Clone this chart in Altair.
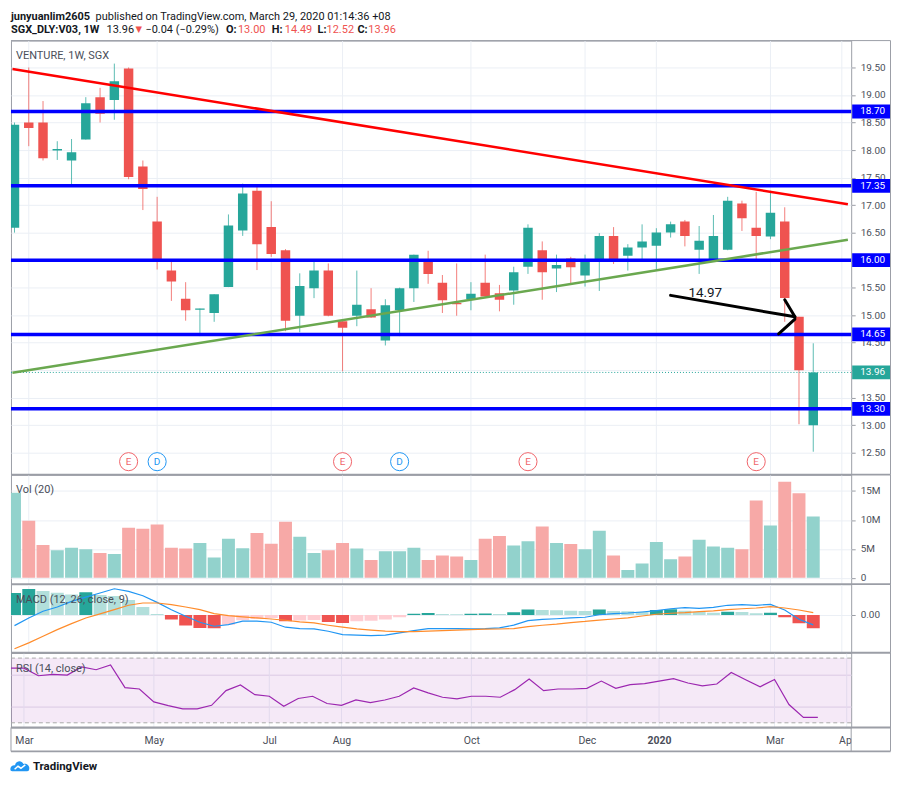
import altair as alt
import pandas as pd

# ------------------------------------------------------------------ data
first_week = "2019-02-25"
n_weeks = 57
week_dates = pd.date_range(first_week, periods=n_weeks, freq="7D").strftime("%Y-%m-%d").tolist()

opens = [16.59, 18.50, 18.50, 17.99, 17.81, 18.19, 18.96, 18.91, 19.48, 17.70,
         16.70, 15.81, 15.30, 15.10, 15.04, 15.51, 16.54, 17.26, 16.60, 16.18,
         14.99, 15.49, 15.81, 14.89, 14.99, 15.11, 14.54, 15.09, 15.49, 16.00,
         15.59, 15.22, 15.29, 15.59, 15.40, 15.45, 15.88, 16.18, 15.85, 16.03,
         15.72, 15.97, 16.44, 16.08, 16.23, 16.26, 16.50, 16.70, 16.19, 15.99,
         16.19, 17.03, 16.59, 16.43, 16.70, 14.97, 13.00]
highs = [18.50, 19.50, 18.89, 18.16, 18.20, 18.96, 19.13, 19.57, 19.50, 17.81,
         17.15, 15.97, 15.60, 15.12, 15.38, 16.83, 17.39, 17.36, 17.07, 16.20,
         15.76, 16.00, 15.94, 14.89, 15.81, 15.49, 15.29, 15.50, 16.10, 16.17,
         15.73, 15.94, 15.60, 16.10, 15.55, 15.88, 16.65, 16.34, 16.10, 16.06,
         16.10, 16.49, 16.60, 16.29, 16.65, 16.58, 16.70, 16.73, 16.62, 16.82,
         17.15, 17.08, 17.24, 17.26, 16.96, 14.97, 14.49]
lows = [16.50, 18.07, 17.81, 17.82, 17.34, 18.19, 18.50, 18.55, 17.47, 16.91,
        15.83, 15.26, 14.90, 14.62, 14.88, 15.51, 16.44, 15.82, 16.06, 14.71,
        14.69, 15.31, 14.98, 13.98, 14.80, 14.95, 14.45, 14.62, 15.24, 15.57,
        15.04, 14.99, 15.09, 15.31, 15.07, 15.19, 15.75, 15.28, 15.42, 15.58,
        15.52, 15.44, 15.93, 15.81, 16.00, 15.82, 16.41, 16.25, 15.75, 15.98,
        16.18, 16.53, 16.00, 16.38, 14.88, 13.02, 12.52]
closes = [18.46, 18.40, 17.85, 18.02, 17.96, 18.85, 18.66, 19.25, 17.51, 17.29,
          16.00, 15.61, 15.09, 15.12, 15.38, 16.63, 17.21, 16.29, 16.11, 14.90,
          15.53, 15.81, 14.99, 14.77, 15.19, 14.96, 15.18, 15.49, 16.10, 15.75,
          15.27, 15.20, 15.39, 15.34, 15.28, 15.78, 16.59, 15.78, 15.91, 15.87,
          15.97, 16.44, 16.02, 16.23, 16.34, 16.50, 16.65, 16.44, 16.35, 16.44,
          17.08, 16.76, 16.44, 16.86, 15.31, 14.00, 13.96]
volumes_m = [14.7, 9.86, 5.67, 4.76, 5.22, 4.93, 4.30, 4.12, 8.66, 8.49,
             9.23, 5.22, 5.05, 6.01, 3.50, 6.77, 5.10, 7.73, 5.91, 9.69,
             7.11, 4.30, 4.76, 6.01, 5.05, 3.09, 4.59, 4.59, 5.22, 3.09,
             3.85, 3.67, 3.09, 6.77, 7.22, 5.57, 6.31, 8.88, 6.01, 5.84,
             4.93, 8.14, 3.85, 1.37, 2.47, 6.19, 3.21, 3.67, 6.60, 5.40,
             5.22, 4.93, 13.35, 9.05, 16.6, 14.6, 10.6]
macd_line = [-0.167, -0.047, 0.058, 0.125, 0.214, 0.281, 0.344, 0.411, 0.370, 0.302,
             0.198, 0.083, -0.020, -0.114, -0.177, -0.152, -0.098, -0.098, -0.114, -0.192,
             -0.214, -0.219, -0.255, -0.308, -0.317, -0.323, -0.317, -0.281, -0.245, -0.214,
             -0.214, -0.214, -0.219, -0.214, -0.203, -0.160, -0.089, -0.070, -0.059, -0.047,
             -0.036, 0.003, 0.020, 0.031, 0.047, 0.067, 0.098, 0.114, 0.105, 0.120,
             0.152, 0.161, 0.152, 0.167, 0.078, -0.067, -0.156]
signal_line = [-0.531, -0.438, -0.333, -0.230, -0.136, -0.047, 0.016, 0.083, 0.152, 0.188,
               0.188, 0.161, 0.125, 0.083, 0.020, -0.011, -0.031, -0.047, -0.063, -0.083,
               -0.109, -0.125, -0.161, -0.192, -0.219, -0.239, -0.255, -0.261, -0.261, -0.255,
               -0.245, -0.239, -0.231, -0.223, -0.220, -0.214, -0.184, -0.161, -0.144, -0.119,
               -0.102, -0.080, -0.063, -0.047, -0.016, 0.011, 0.027, 0.036, 0.052, 0.063,
               0.083, 0.098, 0.109, 0.130, 0.109, 0.078, 0.036]
macd_hist = [0.344, 0.406, 0.375, 0.350, 0.320, 0.355, 0.313, 0.297, 0.234, 0.125,
             0.016, -0.073, -0.167, -0.203, -0.209, -0.152, -0.083, -0.063, -0.047, -0.098,
             -0.086, -0.080, -0.109, -0.125, -0.098, -0.089, -0.073, -0.036, 0.020, 0.031,
             0.016, 0.011, 0.020, 0.025, 0.016, 0.042, 0.086, 0.078, 0.073, 0.067,
             0.063, 0.086, 0.063, 0.058, 0.052, 0.078, 0.089, 0.067, 0.047, 0.036,
             0.052, 0.047, 0.027, 0.036, -0.036, -0.130, -0.208]
rsi_vals = [63.8, 63.8, 59.1, 59.9, 59.5, 64.5, 62.8, 65.7, 51.7, 50.9,
            42.9, 40.6, 38.6, 38.6, 40.8, 49.9, 53.4, 47.4, 46.4, 40.2,
            45.0, 46.4, 41.9, 40.8, 44.1, 42.5, 44.1, 46.4, 51.5, 48.5,
            45.8, 44.8, 46.4, 46.4, 45.8, 50.5, 57.1, 49.9, 50.9, 50.9,
            51.3, 55.8, 51.3, 53.6, 54.2, 55.8, 57.3, 54.6, 52.8, 54.0,
            61.1, 56.6, 52.3, 56.8, 41.3, 33.3, 33.3]

level_prices = [18.70, 17.35, 16.00, 14.65, 13.30]
last_price = 13.96
price_ticks = [12.5, 13.0, 13.5, 14.0, 14.5, 15.0, 15.5, 16.0, 16.5, 17.0, 17.5, 18.0, 18.5, 19.0, 19.5]
volume_ticks = [0, 5, 10, 15]
macd_ticks = [0]
rsi_grid = [40, 60]
rsi_bands = [70, 30]
month_ticks = ["2019-03-04", "2019-05-06", "2019-07-01", "2019-08-05", "2019-10-07",
               "2019-12-02", "2020-01-06", "2020-03-02", "2020-04-06"]
event_dates = ["2019-04-22", "2019-05-06", "2019-08-05", "2019-09-02", "2019-11-04", "2020-02-24"]
event_kinds = ["E", "D", "E", "D", "E", "E"]
red_trend_dates = ["2019-02-24", "2020-04-09"]
red_trend_prices = [19.472, 17.014]
green_trend_dates = ["2019-02-24", "2020-04-09"]
green_trend_prices = [13.953, 16.370]
arrow_from_dates = ["2020-01-13", "2020-03-09", "2020-03-06"]
arrow_from_prices = [15.36, 15.28, 14.66]
arrow_to_dates = ["2020-03-14", "2020-03-14", "2020-03-14"]
arrow_to_prices = [14.97, 14.97, 14.93]
arrow_label_date = "2020-01-30"
arrow_label_price = 15.40
arrow_label_text = "14.97"
x_range_dates = ["2019-02-25T17:22:00", "2020-04-08T04:05:00"]

header_line1 = ["junyuanlim2605", "published on TradingView.com, March 29, 2020 01:14:36 +08"]
header_line2 = ["SGX_DLY:V03, 1W", "13.96", "\u25bc", "\u22120.04 (\u22120.29%)", "O:", "13.00",
                "H:", "14.49", "L:", "12.52", "C:", "13.96"]

# ------------------------------------------------------------------ tables
df = pd.DataFrame({"date": week_dates, "o": opens, "h": highs, "l": lows, "c": closes,
                   "v": volumes_m, "macd": macd_line, "signal": signal_line,
                   "hist": macd_hist, "rsi": rsi_vals})
df["dir"] = ["up" if c >= o else "down" for o, c in zip(opens, closes)]
states = []
for i, hv in enumerate(macd_hist):
    rising = i == 0 or hv >= macd_hist[i - 1]
    if hv >= 0:
        states.append("pos_up" if rising else "pos_down")
    else:
        states.append("neg_up" if rising else "neg_down")
df["state"] = states

ticks_df = pd.DataFrame({"date": month_ticks})
levels_df = pd.DataFrame({"p": level_prices})
last_df = pd.DataFrame({"p": [last_price]})
events_df = pd.DataFrame({"date": event_dates, "kind": event_kinds})
red_df = pd.DataFrame({"date": red_trend_dates, "p": red_trend_prices})
green_df = pd.DataFrame({"date": green_trend_dates, "p": green_trend_prices})
arrow_df = pd.DataFrame({"d1": arrow_from_dates, "p1": arrow_from_prices,
                         "d2": arrow_to_dates, "p2": arrow_to_prices})
arrow_lab_df = pd.DataFrame({"date": [arrow_label_date], "p": [arrow_label_price], "t": [arrow_label_text]})
band_df = pd.DataFrame({"top": [rsi_bands[0]], "bot": [rsi_bands[1]]})
rsi_lines_df = pd.DataFrame({"r": rsi_bands})
one = pd.DataFrame({"z": [0]})

# ------------------------------------------------------------------ style / layout
FONT = "Roboto"
W = 844
RIGHT = 883.5
H_HEAD, H_MAIN, H_VOL, H_MACD, H_RSI = 30, 436, 110, 69, 75
FRAME = "#9B9EA6"
GRID = "#EBEFF5"
AXLAB = "#4A4E59"
LABEL = "#4A4E59"
TXT = "#131722"
TEAL = "#26A69A"
RED = "#EF5350"
BLUE = "#0000FF"


def ms(d):
    return int(pd.Timestamp(d, tz="UTC").value // 10**6)


xscale = alt.Scale(type="utc", domain=[ms(d) for d in x_range_dates], nice=False)


def X(field="date", axis=None):
    return alt.X(f"{field}:T", scale=xscale, axis=axis, title=None)


def seg(x1, y1, x2, y2, color=FRAME, width=1.0):
    return alt.Chart(one).mark_rule(color=color, strokeWidth=width).encode(
        x=alt.value(x1), x2=alt.value(x2), y=alt.value(y1), y2=alt.value(y2))


def label(text, x, y, size=11, color=LABEL, weight="normal", baseline="middle", font=FONT):
    return alt.Chart(one).mark_text(text=text, align="left", baseline=baseline, fontSize=size,
                                    color=color, fontWeight=weight, font=font).encode(
        x=alt.value(x), y=alt.value(y))


def vgrid(axis=None):
    return alt.Chart(ticks_df).mark_rule(color=GRID, strokeWidth=1).encode(x=X(axis=axis))


def right_axis(values, **kw):
    base = dict(orient="right", values=values, tickSize=4, tickColor=FRAME, labelColor=AXLAB,
                labelFontSize=10, labelPadding=5, domain=False, grid=True, gridColor=GRID,
                labelOverlap=False, title=None)
    base.update(kw)
    return alt.Axis(**base)


dir_scale = alt.Scale(domain=["up", "down"], range=[TEAL, RED])
vol_scale = alt.Scale(domain=["up", "down"], range=["#92D2CC", "#F7A9A7"])
hist_scale = alt.Scale(domain=["pos_up", "pos_down", "neg_down", "neg_up"],
                       range=[TEAL, "#B2DFDB", RED, "#FFCDD2"])

# ------------------------------------------------------------------ header
head_layers = [
    label(header_line1[0], 0, 0, size=11, color=TXT, weight="bold", baseline="top"),
    label(header_line1[1], 85, 0, size=11, color=TXT, baseline="top"),
]
line2_x = [0, 96, 125, 135, 216, 228, 262, 275, 308, 317, 348, 359]
line2_style = ["b", "n", "arrow", "n", "b", "r", "b", "r", "b", "r", "b", "r"]
for t, xx, st in zip(header_line2, line2_x, line2_style):
    if st == "b":
        head_layers.append(label(t, xx, 22, size=11, color=TXT, weight="bold", baseline="alphabetic"))
    elif st == "r":
        head_layers.append(label(t, xx, 22, size=11, color=RED, baseline="alphabetic"))
    elif st == "arrow":
        head_layers.append(label(t, xx, 21, size=8.5, color=RED, baseline="alphabetic", font="DejaVu Sans"))
    else:
        head_layers.append(label(t, xx, 22, size=11, color=TXT, baseline="alphabetic"))
header = alt.layer(*head_layers).properties(width=W, height=H_HEAD,
                                           view=alt.ViewBackground(stroke="transparent"))

# ------------------------------------------------------------------ main price pane
ys_main = alt.Scale(domain=[12.104, 19.988], zero=False, nice=False)
price_axis = right_axis(price_ticks, format=".2f")


def YM(field):
    return alt.Y(f"{field}:Q", scale=ys_main, axis=price_axis, title=None)


wicks = alt.Chart(df).mark_rule(strokeWidth=1, opacity=0.75, clip=True).encode(
    x=X(), y=YM("l"), y2="h:Q", color=alt.Color("dir:N", scale=dir_scale, legend=None))
bodies = alt.Chart(df).mark_bar(size=9.5, orient="vertical", clip=True).encode(
    x=X(), y=YM("o"), y2="c:Q", color=alt.Color("dir:N", scale=dir_scale, legend=None))
last_line = alt.Chart(last_df).mark_rule(color=TEAL, strokeDash=[1, 2], strokeWidth=1).encode(y=YM("p"))
level_lines = alt.Chart(levels_df).mark_rule(color=BLUE, strokeWidth=3.5).encode(y=YM("p"))
red_line = alt.Chart(red_df).mark_line(color="#FF0000", strokeWidth=2.5, clip=True).encode(x=X(), y=YM("p"))
green_line = alt.Chart(green_df).mark_line(color="#6AA84F", strokeWidth=2.5, clip=True).encode(x=X(), y=YM("p"))
arrow = alt.Chart(arrow_df).mark_rule(color="black", strokeWidth=3, strokeCap="round").encode(
    x=X("d1"), x2="d2:T", y=YM("p1"), y2="p2:Q")
arrow_text = alt.Chart(arrow_lab_df).mark_text(fontSize=13.5, color=TXT, align="center",
                                               baseline="middle").encode(x=X(), y=YM("p"), text="t:N")
level_boxes = alt.Chart(levels_df).transform_calculate(
    lo="datum.p - 0.125", hi="datum.p + 0.125").mark_rect(color=BLUE).encode(
    x=alt.value(845), x2=alt.value(RIGHT), y=YM("lo"), y2="hi:Q")
level_texts = alt.Chart(levels_df).mark_text(color="white", fontSize=10, align="left",
                                             baseline="middle").encode(
    x=alt.value(853), y=YM("p"), text=alt.Text("p:Q", format=".2f"))
last_box = alt.Chart(last_df).transform_calculate(
    lo="datum.p - 0.125", hi="datum.p + 0.125").mark_rect(color=TEAL).encode(
    x=alt.value(845), x2=alt.value(RIGHT), y=YM("lo"), y2="hi:Q")
last_text = alt.Chart(last_df).mark_text(color="white", fontSize=10, align="left",
                                         baseline="middle").encode(
    x=alt.value(853), y=YM("p"), text=alt.Text("p:Q", format=".2f"))

event_layers = []
for kind, col in [("E", "#F0646A"), ("D", "#2196F3")]:
    base = alt.Chart(events_df).transform_filter(f"datum.kind == '{kind}'")
    event_layers.append(base.mark_circle(size=330, fill="white", stroke=col, strokeWidth=1,
                                         opacity=1, fillOpacity=1).encode(x=X(), y=alt.value(423)))
    event_layers.append(base.mark_text(fontSize=10, color=col, align="center",
                                       baseline="middle").encode(x=X(), y=alt.value(423.5), text="kind:N"))

main = alt.layer(
    vgrid(), wicks, bodies, last_line, level_lines, red_line, green_line, arrow, arrow_text,
    level_boxes, level_texts, last_box, last_text, *event_layers,
    label("VENTURE, 1W, SGX", 5, 15, size=11),
    seg(0, 0, RIGHT, 0), seg(RIGHT, 0, RIGHT, H_MAIN),
).properties(width=W, height=H_MAIN)

# ------------------------------------------------------------------ volume pane
ys_vol = alt.Scale(domain=[-1.08, 17.82], zero=False, nice=False)
vol_bars = alt.Chart(df).mark_bar(size=13, orient="vertical", clip=True).encode(
    x=X(),
    y=alt.Y("v:Q", scale=ys_vol,
            axis=right_axis(volume_ticks, labelExpr="datum.value == 0 ? '0' : datum.value + 'M'")),
    y2=alt.datum(0),
    color=alt.Color("dir:N", scale=vol_scale, legend=None))
vol = alt.layer(
    vgrid(), vol_bars, label("Vol (20)", 5, 15, size=11),
    seg(0, 0, RIGHT, 0, width=2), seg(RIGHT, 0, RIGHT, H_VOL),
).properties(width=W, height=H_VOL)

# ------------------------------------------------------------------ MACD pane
ys_macd = alt.Scale(domain=[-0.594, 0.484], zero=False, nice=False)
macd_axis = right_axis(macd_ticks, format=".2f")
hist_bars = alt.Chart(df).mark_bar(size=13, orient="vertical", clip=True).encode(
    x=X(), y=alt.Y("hist:Q", scale=ys_macd, axis=macd_axis),
    y2=alt.datum(0), color=alt.Color("state:N", scale=hist_scale, legend=None))
macd_l = alt.Chart(df).mark_line(color="#2196F3", strokeWidth=1.2, clip=True).encode(
    x=X(), y=alt.Y("macd:Q", scale=ys_macd, axis=macd_axis))
signal_l = alt.Chart(df).mark_line(color="#FF8C2B", strokeWidth=1.2, clip=True).encode(
    x=X(), y=alt.Y("signal:Q", scale=ys_macd, axis=macd_axis))
macd = alt.layer(
    vgrid(), hist_bars, macd_l, signal_l, label("MACD (12, 26, close, 9)", 5, 16, size=11),
    seg(0, 0, RIGHT, 0, width=2), seg(RIGHT, 0, RIGHT, H_MACD),
).properties(width=W, height=H_MACD)

# ------------------------------------------------------------------ RSI pane
ys_rsi = alt.Scale(domain=[27.1, 73.26], zero=False, nice=False)
x_axis = alt.Axis(values=[ms(d) for d in month_ticks],
                  labelExpr="utcFormat(datum.value, '%m') == '01' ? utcFormat(datum.value, '%Y') : utcFormat(datum.value, '%b')",
                  labelFontWeight={"condition": {"test": "utcFormat(datum.value, '%m') == '01'", "value": "bold"},
                                   "value": "normal"},
                  grid=False, ticks=False, domain=False, labelPadding=8, labelFontSize=10.5,
                  labelColor=AXLAB, labelOverlap=False, labelFlush=False, title=None)
rsi_axis = alt.Axis(orient="right", values=rsi_grid, labels=False, ticks=False, domain=False,
                    grid=True, gridColor="#E2DCEB", title=None)
band = alt.Chart(band_df).mark_rect(color="#9C27B0", opacity=0.1).encode(
    x=alt.value(0), x2=alt.value(W), y=alt.Y("top:Q", scale=ys_rsi, axis=rsi_axis), y2="bot:Q")
band_lines = alt.Chart(rsi_lines_df).mark_rule(color="#A9A9A9", strokeDash=[4, 3], strokeWidth=1).encode(
    y=alt.Y("r:Q", scale=ys_rsi, axis=rsi_axis))
rsi_l = alt.Chart(df).mark_line(color="#9C27B0", strokeWidth=1.2, clip=True).encode(
    x=X(axis=x_axis), y=alt.Y("rsi:Q", scale=ys_rsi, axis=rsi_axis))
logo_cloud = alt.Chart(one).mark_point(
    shape="M-0.95,0.45 C-1.1,0.1 -0.8,-0.15 -0.5,-0.1 C-0.45,-0.55 0.15,-0.7 0.35,-0.25 "
          "C0.7,-0.35 1.05,-0.05 0.95,0.3 C0.95,0.45 0.85,0.5 0.75,0.5 L-0.8,0.5 Z",
    size=380, filled=True, color="#2196F3", opacity=1).encode(x=alt.value(9), y=alt.value(114))
logo_line = alt.Chart(one).mark_point(
    shape="M-0.55,0.3 L-0.2,0.0 L0.1,0.2 L0.55,-0.15",
    size=380, filled=False, color="white", strokeWidth=1.5, opacity=1).encode(
    x=alt.value(9), y=alt.value(114))
rsi = alt.layer(
    vgrid(axis=x_axis), band, band_lines, rsi_l, label("RSI (14, close)", 5, 16, size=11),
    alt.Chart(one).mark_rect(color="white").encode(x=alt.value(844.5), x2=alt.value(RIGHT - 0.5),
                                                   y=alt.value(76), y2=alt.value(98.5)),
    seg(0, 0, RIGHT, 0, width=2), seg(RIGHT, 0, RIGHT, H_RSI + 24),
    seg(0, H_RSI, RIGHT, H_RSI, width=2), seg(0, H_RSI, 0, H_RSI + 24),
    seg(W, H_RSI, W, H_RSI + 24), seg(0, H_RSI + 24, RIGHT, H_RSI + 24, width=2),
    logo_cloud, logo_line,
    label("TradingView", 22, 115, size=11.5, color=TXT, weight="bold"),
).properties(width=W, height=H_RSI)

chart = alt.vconcat(header, main, vol, macd, rsi, spacing=0, bounds="flush").resolve_scale(
    x="independent", y="independent", color="independent"
).properties(padding=0).configure(font=FONT, background="white").configure_view(
    stroke=FRAME, strokeWidth=1)

chart.save("out.html", embed_options={"renderer": "svg", "actions": False})
